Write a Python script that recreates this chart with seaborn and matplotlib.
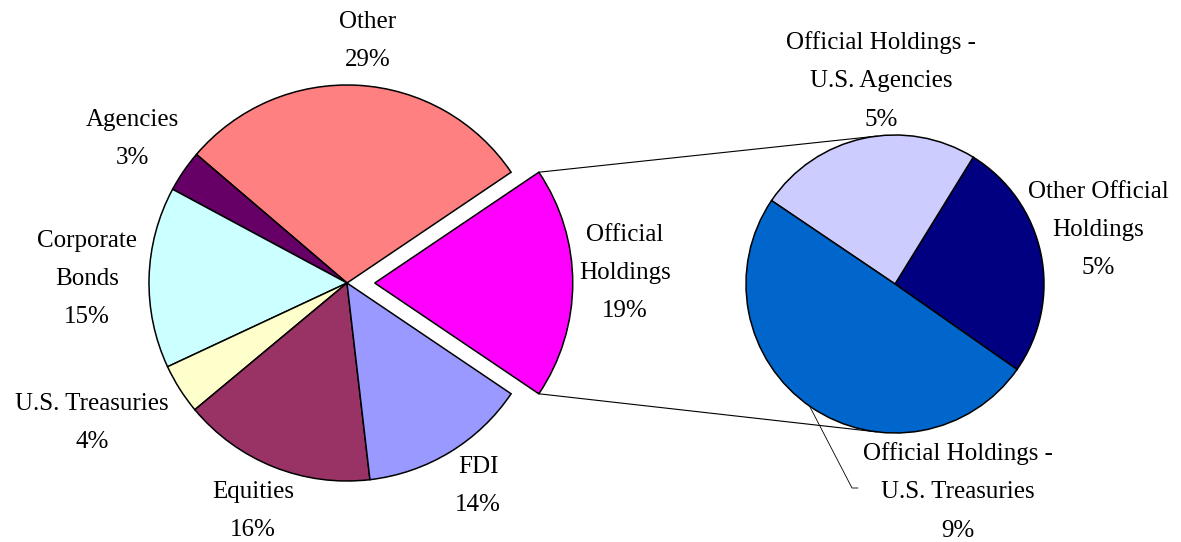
import numpy as np
import matplotlib
matplotlib.use("Agg")
import matplotlib.pyplot as plt
import seaborn as sns

# main pie (percent of total), counterclockwise from the exploded slice
main_names = ["Official\nHoldings", "Other", "Agencies", "Corporate\nBonds",
              "U.S. Treasuries", "Equities", "FDI"]
main_values = [18.9, 29.3, 3.4, 14.8, 4.1, 15.8, 13.7]
main_colors = ["#FF00FF", "#FF8080", "#660066", "#CCFFFF",
               "#FFFFCC", "#993366", "#9999FF"]

# breakdown of official holdings (percent of total)
sub_names = ["Other Official\nHoldings", "Official Holdings -\nU.S. Agencies",
             "Official Holdings -\nU.S. Treasuries"]
sub_values = [4.9, 4.6, 9.4]
sub_colors = ["#000080", "#CCCCFF", "#0066CC"]

# label positions (pixels, from top-left)
main_label_pos = [(625, 273), (368, 41), (132, 139), (87, 279),
                  (92, 423), (253, 511), (478, 486)]
sub_label_pos = [(1098, 230), (881, 81), (958, 492)]

sns.set_theme(style="white")
plt.rcParams['font.family'] = ['Liberation Serif', 'DejaVu Serif']

W, H = 1181, 542
fig = plt.figure(figsize=(W / 100, H / 100), dpi=100)
ax = fig.add_axes([0, 0, 1, 1])

wedge_kw = dict(edgecolor="black", linewidth=1.1)

c1 = (347, -283)
r1 = 198
# explode is in data units here (radius is not 1)
explode = [0.14 * r1] + [0] * (len(main_values) - 1)
start1 = -main_values[0] / sum(main_values) * 360 / 2
w1, _ = ax.pie(main_values, colors=main_colors, explode=explode, center=c1,
               radius=r1, startangle=start1, counterclock=True,
               wedgeprops=wedge_kw, frame=True)

c2 = (895, -284)
r2 = 149
w2, _ = ax.pie(sub_values, colors=sub_colors, center=c2, radius=r2,
               startangle=-35, counterclock=True, wedgeprops=wedge_kw, frame=True)

# connector lines from exploded wedge to second pie
ow = w1[0]
ocx, ocy = ow.center
p_top = (ocx + ow.r * np.cos(np.radians(ow.theta2)), ocy + ow.r * np.sin(np.radians(ow.theta2)))
p_bot = (ocx + ow.r * np.cos(np.radians(ow.theta1)), ocy + ow.r * np.sin(np.radians(ow.theta1)))
dx = -18
q_top = (c2[0] + dx, c2[1] + np.sqrt(r2 ** 2 - dx ** 2))
q_bot = (c2[0] + dx, c2[1] - np.sqrt(r2 ** 2 - dx ** 2))
ax.plot([p_top[0], q_top[0]], [p_top[1], q_top[1]], color="black", lw=0.8, zorder=0)
ax.plot([p_bot[0], q_bot[0]], [p_bot[1], q_bot[1]], color="black", lw=0.8, zorder=0)

fs = 18
ls = 1.95
for name, v, (x, y) in zip(main_names, main_values, main_label_pos):
    ax.text(x, -y, f"{name}\n{round(v)}%", ha="center", va="center",
            fontsize=fs, linespacing=ls, color="black")
for name, v, (x, y) in zip(sub_names, sub_values, sub_label_pos):
    ax.text(x, -y, f"{name}\n{round(v)}%", ha="center", va="center",
            fontsize=fs, linespacing=ls, color="black")

# leader line for the treasuries label
a = np.radians(235)
lx, ly = c2[0] + r2 * np.cos(a), c2[1] + r2 * np.sin(a)
ax.plot([lx, 852, 858], [ly, -488, -488], color="black", lw=0.6)

ax.set_xlim(0, W)
ax.set_ylim(-H, 0)
ax.set_aspect("auto")
ax.set_axis_off()

fig.savefig("out.png", dpi=100)
